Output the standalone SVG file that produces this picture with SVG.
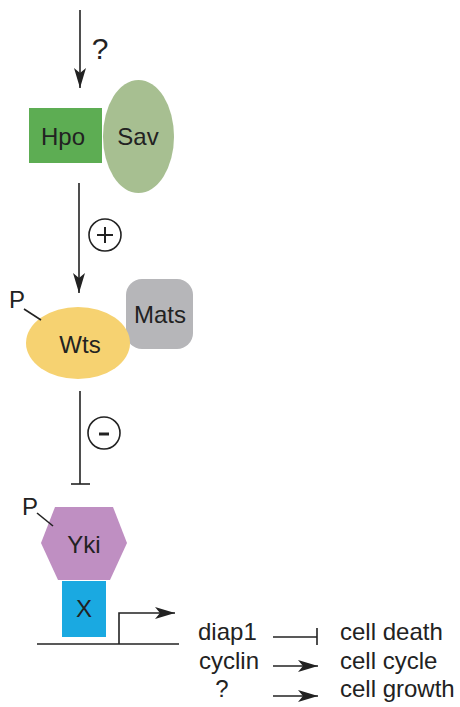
<svg xmlns="http://www.w3.org/2000/svg" width="460" height="707" viewBox="0 0 460 707">
<style>
text{font-family:"Liberation Sans",Arial,sans-serif;font-size:24px;fill:#222}
.c{text-anchor:middle}
.ln{stroke:#222;stroke-width:1.6;fill:none}
</style>
<defs>
<marker id="ah" viewBox="0 0 20 12" refX="20" refY="6" markerWidth="20" markerHeight="12" markerUnits="userSpaceOnUse" orient="auto">
<path d="M0,0 L20,6 L0,12 L5,6 Z" fill="#222"/>
</marker>
</defs>
<rect width="460" height="707" fill="#fff"/>
<g id="connectors">
<line class="ln" x1="80" y1="10" x2="80" y2="88" marker-end="url(#ah)"/>
<line class="ln" x1="79" y1="183" x2="79" y2="293" marker-end="url(#ah)"/>
<line class="ln" x1="80" y1="391" x2="80" y2="484"/>
<line class="ln" x1="71" y1="484" x2="90" y2="484"/>
<line class="ln" x1="273" y1="637" x2="317" y2="637"/>
<line class="ln" x1="317" y1="628" x2="317" y2="645"/>
<line class="ln" x1="273" y1="666" x2="318" y2="666" marker-end="url(#ah)"/>
<line class="ln" x1="273" y1="696" x2="318" y2="696" marker-end="url(#ah)"/>
</g>
<g id="q-top"><text x="100" y="59" class="c" style="font-size:30px">?</text></g>
<g id="plus"><circle class="ln" cx="105" cy="235" r="16"/><line class="ln" x1="97" y1="235" x2="113" y2="235" style="stroke-width:2"/><line class="ln" x1="105" y1="227" x2="105" y2="243" style="stroke-width:2"/></g>
<g id="minus"><circle class="ln" cx="104" cy="433" r="16"/><line class="ln" x1="99" y1="434" x2="109" y2="434" style="stroke-width:3"/></g>
<g id="hpo"><rect x="29" y="108" width="73" height="55" fill="#5dad53"/><text x="63" y="145" class="c">Hpo</text></g>
<g id="sav"><ellipse cx="138.5" cy="136.5" rx="35.5" ry="56.5" fill="#a7bf91"/><text x="138" y="145" class="c">Sav</text></g>
<g id="mats"><rect x="126" y="279" width="67" height="70" rx="16" fill="#b6b6b9"/><text x="160" y="323" class="c">Mats</text></g>
<g id="wts"><ellipse cx="78" cy="343" rx="52" ry="36" fill="#f6d271"/><text x="80" y="353" class="c">Wts</text><text x="9" y="308">P</text><line class="ln" x1="24" y1="309" x2="41" y2="320"/></g>
<g id="x"><rect x="62" y="581" width="44" height="56" fill="#1aa9e1"/><text x="84" y="617" class="c">X</text></g>
<g id="yki"><polygon points="55,507 113,507 127,543 110,580 58,580 41,543" fill="#bf8fc2"/><text x="84" y="553" class="c">Yki</text><text x="22" y="515">P</text><line class="ln" x1="37" y1="513" x2="53" y2="526"/></g>
<g id="gene"><line class="ln" x1="37" y1="644" x2="179" y2="644"/><polyline class="ln" points="119,644 119,613 175,613" marker-end="url(#ah)"/></g>
<g id="labels">
<text x="198" y="640">diap1</text>
<text x="199" y="669">cyclin</text>
<text x="222" y="697" class="c">?</text>
<text x="340" y="640">cell death</text>
<text x="340" y="669">cell cycle</text>
<text x="340" y="697">cell growth</text>
</g>
</svg>
